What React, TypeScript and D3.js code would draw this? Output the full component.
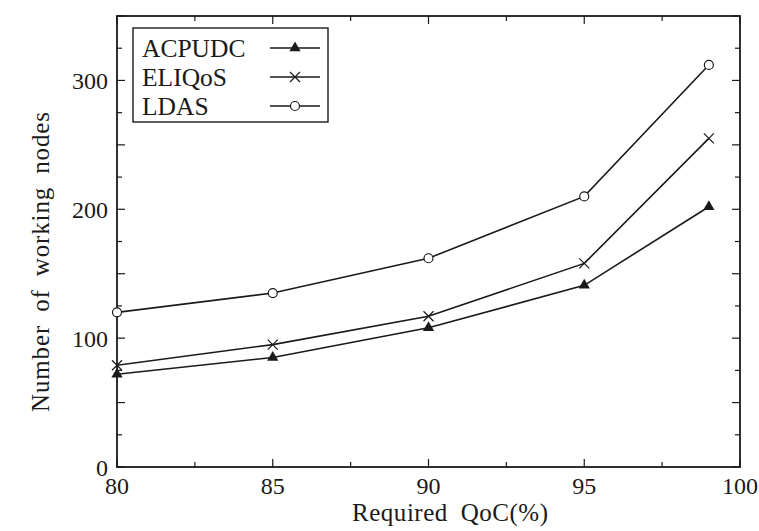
import React, { useEffect, useRef } from 'react';
import { select, scaleLinear, line, range, symbol, symbolTriangle } from 'd3';

const qoc = [80, 85, 90, 95, 99];
const acpudc = [72, 85, 108, 141, 202];
const eliqos = [79, 95, 117, 158, 255];
const ldas = [120, 135, 162, 210, 312];
const seriesNames = ['ACPUDC', 'ELIQoS', 'LDAS'];
const xTicks = [80, 85, 90, 95, 100];
const yTicks = [0, 100, 200, 300];

function App() {
  const svgRef = useRef<SVGSVGElement>(null);

  useEffect(() => {
    const svg = select(svgRef.current);
    const width = 759;
    const height = 531;
    const margin = { top: 16, right: 19, bottom: 64, left: 117 };
    const innerWidth = width - margin.left - margin.right;
    const innerHeight = height - margin.top - margin.bottom;
    const font = '"Liberation Serif", "DejaVu Serif", serif';
    const ink = '#1a1a1a';

    const x = scaleLinear().domain([80, 100]).range([0, innerWidth]);
    const y = scaleLinear().domain([0, 350]).range([innerHeight, 0]);

    const chart = svg.append('g').attr('transform', `translate(${margin.left},${margin.top})`);

    // frame
    chart.append('rect')
      .attr('width', innerWidth).attr('height', innerHeight)
      .attr('fill', 'none').attr('stroke', ink).attr('stroke-width', 1.8);

    // inward ticks on all four sides
    const xMinor = range(80, 100.01, 2.5);
    const yMinor = range(0, 350.01, 25);
    xMinor.forEach((v) => {
      const len = v % 5 === 0 ? 8 : 5;
      chart.append('line').attr('x1', x(v)).attr('x2', x(v)).attr('y1', innerHeight).attr('y2', innerHeight - len)
        .attr('stroke', ink).attr('stroke-width', 1.2);
      chart.append('line').attr('x1', x(v)).attr('x2', x(v)).attr('y1', 0).attr('y2', len)
        .attr('stroke', ink).attr('stroke-width', 1.2);
    });
    yMinor.forEach((v) => {
      const len = v % 50 === 0 ? 8 : 5;
      chart.append('line').attr('y1', y(v)).attr('y2', y(v)).attr('x1', 0).attr('x2', len)
        .attr('stroke', ink).attr('stroke-width', 1.2);
      chart.append('line').attr('y1', y(v)).attr('y2', y(v)).attr('x1', innerWidth).attr('x2', innerWidth - len)
        .attr('stroke', ink).attr('stroke-width', 1.2);
    });

    // tick labels
    chart.selectAll('.xlab').data(xTicks).enter().append('text')
      .attr('x', (d) => x(d)).attr('y', innerHeight + 27)
      .attr('text-anchor', 'middle').attr('font-family', font).attr('font-size', 24).attr('fill', ink)
      .text((d) => d);
    chart.selectAll('.ylab').data(yTicks).enter().append('text')
      .attr('x', -9).attr('y', (d) => y(d) + 9)
      .attr('text-anchor', 'end').attr('font-family', font).attr('font-size', 24).attr('fill', ink)
      .text((d) => d);

    // axis titles
    svg.append('text')
      .attr('x', 352).attr('y', 521)
      .attr('font-family', font).attr('font-size', 25).attr('fill', ink)
      .attr('word-spacing', 6).attr('textLength', 196)
      .text('Required QoC(%)');
    svg.append('text')
      .attr('transform', 'translate(49,412) rotate(-90)')
      .attr('font-family', font).attr('font-size', 25).attr('fill', ink)
      .attr('word-spacing', 6).attr('textLength', 300)
      .text('Number of working nodes');

    // series
    const allSeries = [acpudc, eliqos, ldas];
    const path = line<number>().x((_, i) => x(qoc[i])).y((d) => y(d));
    allSeries.forEach((s) => {
      chart.append('path').attr('d', path(s)).attr('fill', 'none').attr('stroke', ink).attr('stroke-width', 1.6);
    });

    const tri = symbol().type(symbolTriangle).size(55)();
    const drawMarker = (g: any, k: number, cx: number, cy: number) => {
      if (k === 0) {
        g.append('path').attr('d', tri).attr('transform', `translate(${cx},${cy})`).attr('fill', ink);
      } else if (k === 1) {
        const r = 5;
        g.append('path').attr('d', `M${cx - r},${cy - r}L${cx + r},${cy + r}M${cx - r},${cy + r}L${cx + r},${cy - r}`)
          .attr('stroke', ink).attr('stroke-width', 1.2).attr('fill', 'none');
      } else {
        g.append('circle').attr('cx', cx).attr('cy', cy).attr('r', 4.5)
          .attr('fill', '#fff').attr('stroke', ink).attr('stroke-width', 1.2);
      }
    };
    allSeries.forEach((s, k) => {
      s.forEach((v, i) => drawMarker(chart, k, x(qoc[i]), y(v)));
    });

    // legend
    const lg = svg.append('g');
    lg.append('rect').attr('x', 133).attr('y', 28).attr('width', 195).attr('height', 94)
      .attr('fill', '#fff').attr('stroke', ink).attr('stroke-width', 1.4);
    seriesNames.forEach((name, k) => {
      const cy = 48 + k * 29;
      lg.append('text').attr('x', 142).attr('y', cy + 9)
        .attr('font-family', font).attr('font-size', 25.5).attr('fill', ink)
        .text(name);
      lg.append('line').attr('x1', 270).attr('x2', 320).attr('y1', cy).attr('y2', cy)
        .attr('stroke', ink).attr('stroke-width', 1.6);
      drawMarker(lg, k, 295, cy);
    });

    return () => { svg.selectAll('*').remove(); };
  }, []);

  return (
    <svg ref={svgRef} width={759} height={531} style={{ position: 'absolute', left: 0, top: 0, background: '#fff' }}></svg>
  );
}

export default App;
